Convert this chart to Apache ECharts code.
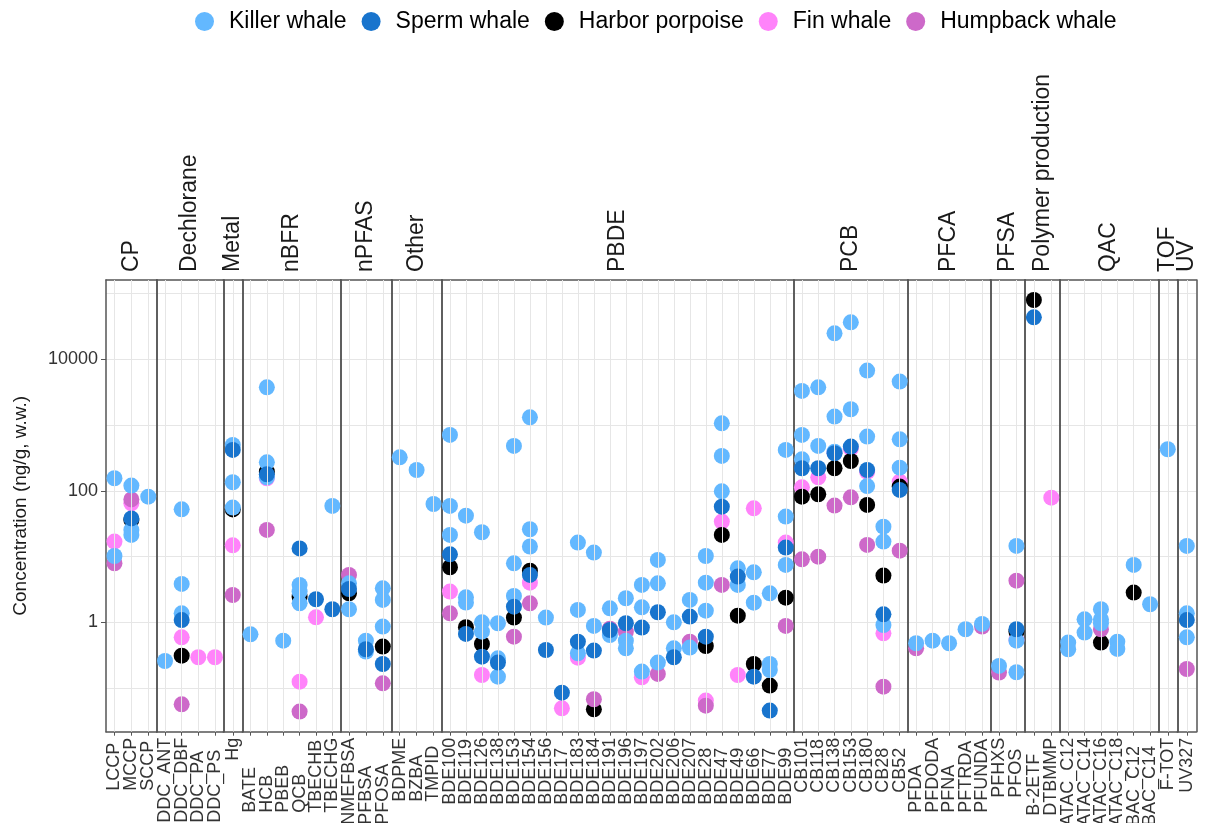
<!DOCTYPE html>
<html>
<head>
<meta charset="utf-8">
<script src="https://cdn.jsdelivr.net/npm/echarts@6/dist/echarts.min.js"></script>
<style>
html,body{margin:0;padding:0;background:#fff;}
#chart{width:1205px;height:823px;}
</style>
</head>
<body>
<div id="chart"></div>
<script>
// ---------- DATA ----------
const facets = ['CP','Dechlorane','Metal','nBFR','nPFAS','Other','PBDE','PCB','PFCA','PFSA','Polymer production','QAC','TOF','UV'];
const facetCategories = [
  ['LCCP','MCCP','SCCP'],
  ['DDC_ANT','DDC_DBF','DDC_PA','DDC_PS'],
  ['Hg'],
  ['BATE','HCB','PBEB','QCB','TBECHB','TBECHG'],
  ['NMEFBSA','PFBSA','PFOSA'],
  ['BDPME','BZBA','TMPID'],
  ['BDE100','BDE119','BDE126','BDE138','BDE153','BDE154','BDE156','BDE17','BDE183','BDE184','BDE191','BDE196','BDE197','BDE202','BDE206','BDE207','BDE28','BDE47','BDE49','BDE66','BDE77','BDE99'],
  ['CB101','CB118','CB138','CB153','CB180','CB28','CB52'],
  ['PFDA','PFDODA','PFNA','PFTRDA','PFUNDA'],
  ['PFHXS','PFOS'],
  ['B-2ETF','DTBMMP'],
  ['ATAC_C12','ATAC_C14','ATAC_C16','ATAC_C18','BAC_C12','BAC_C14'],
  ['F-TOT'],
  ['UV327']
];
const legendOrder = ['Killer whale','Sperm whale','Harbor porpoise','Fin whale','Humpback whale'];
const yTickValues = [1, 100, 10000];
const yAxisTitle = 'Concentration (ng/g, w.w.)';

const killerWhale = [
  ['LCCP',155],['LCCP',10.2],['MCCP',120],['MCCP',25.4],['MCCP',21.3],['SCCP',81.5],
  ['DDC_ANT',0.258],['DDC_DBF',52.3],['DDC_DBF',3.83],['DDC_DBF',1.37],
  ['Hg',498],['Hg',135],['Hg',55.5],
  ['BATE',0.657],['HCB',3750],['HCB',271],['HCB',160],['PBEB',0.526],['QCB',3.7],['QCB',2.93],['QCB',1.94],['TBECHG',58.8],
  ['NMEFBSA',3.92],['NMEFBSA',1.58],['PFBSA',0.526],['PFBSA',0.358],['PFOSA',3.29],['PFOSA',2.19],['PFOSA',0.86],
  ['BDPME',323],['BZBA',207],['TMPID',63],
  ['BDE100',707],['BDE100',58.8],['BDE100',21.3],['BDE119',41.9],['BDE119',2.4],['BDE119',2.0],
  ['BDE126',23.4],['BDE126',1.0],['BDE126',0.72],['BDE138',0.966],['BDE138',0.283],['BDE138',0.149],
  ['BDE153',481],['BDE153',7.89],['BDE153',2.51],['BDE154',1312],['BDE154',26],['BDE154',14.2],
  ['BDE156',1.18],['BDE183',16.3],['BDE183',1.54],['BDE183',0.338],['BDE184',11.5],['BDE184',0.88],
  ['BDE191',1.63],['BDE191',0.641],['BDE196',2.32],['BDE196',0.526],['BDE196',0.402],
  ['BDE197',3.7],['BDE197',1.69],['BDE197',0.178],['BDE202',8.87],['BDE202',3.92],['BDE202',0.244],
  ['BDE206',1.0],['BDE206',0.402],['BDE207',2.19],['BDE207',0.412],['BDE28',10.2],['BDE28',4.01],['BDE28',1.5],
  ['BDE47',1063],['BDE47',339],['BDE47',98],['BDE49',6.62],['BDE49',3.7],['BDE66',5.76],['BDE66',1.99],
  ['BDE77',2.76],['BDE77',0.232],['BDE77',0.188],['BDE99',418],['BDE99',40.5],['BDE99',7.45],
  ['CB101',3300],['CB101',707],['CB101',301],['CB118',3750],['CB118',481],['CB138',24850],['CB138',1343],['CB138',394],
  ['CB153',36500],['CB153',1738],['CB180',6730],['CB180',667],['CB180',118],['CB28',28.5],['CB28',16.9],['CB28',0.91],
  ['CB52',4575],['CB52',607],['CB52',225],
  ['PFDA',0.48],['PFDODA',0.526],['PFNA',0.48],['PFTRDA',0.783],['PFUNDA',0.944],
  ['PFHXS',0.217],['PFOS',14.5],['PFOS',0.526],['PFOS',0.174],
  ['ATAC_C12',0.491],['ATAC_C12',0.389],['ATAC_C14',1.11],['ATAC_C14',0.697],['ATAC_C16',1.58],['ATAC_C16',1.11],['ATAC_C16',0.966],
  ['ATAC_C18',0.508],['ATAC_C18',0.393],['BAC_C12',7.45],['BAC_C14',1.88],
  ['F-TOT',428],['UV327',14.5],['UV327',1.37],['UV327',0.59]
];
const spermWhale = [
  ['MCCP',38],['DDC_DBF',1.08],['Hg',418],['HCB',178],['QCB',13.3],['TBECHB',2.24],['TBECHG',1.58],
  ['NMEFBSA',3.21],['PFBSA',0.389],['PFOSA',0.232],
  ['BDE100',10.8],['BDE119',0.665],['BDE126',0.3],['BDE138',0.244],['BDE153',1.73],['BDE154',5.25],['BDE156',0.379],
  ['BDE17',0.085],['BDE183',0.508],['BDE184',0.371],['BDE191',0.764],['BDE196',0.966],['BDE197',0.83],['BDE202',1.42],
  ['BDE206',0.294],['BDE207',1.22],['BDE28',0.605],['BDE47',57.4],['BDE49',4.95],['BDE66',0.149],['BDE77',0.0454],['BDE99',13.7],
  ['CB101',220],['CB118',220],['CB138',372],['CB153',470],['CB180',207],['CB28',1.32],['CB52',103],
  ['PFOS',0.783],['B-2ETF',43500],['UV327',1.08]
];
const harborPorpoise = [
  ['MCCP',36],['DDC_DBF',0.311],['Hg',52],['HCB',195],['QCB',2.45],['NMEFBSA',2.76],['PFOSA',0.427],
  ['BDE100',6.87],['BDE119',0.84],['BDE126',0.468],['BDE153',1.18],['BDE154',6.1],['BDE184',0.0475],['BDE28',0.436],
  ['BDE47',21.3],['BDE49',1.26],['BDE66',0.232],['BDE77',0.109],['BDE99',2.37],
  ['CB101',81.5],['CB118',88.5],['CB138',220],['CB153',284],['CB180',61],['CB28',5.13],['CB52',116],
  ['PFOS',0.72],['B-2ETF',79800],['ATAC_C16',0.491],['BAC_C12',2.83]
];
const finWhale = [
  ['LCCP',16.9],['MCCP',64.5],['DDC_DBF',0.59],['DDC_PA',0.294],['DDC_PS',0.294],['Hg',14.8],['HCB',155],['QCB',0.125],['TBECHB',1.19],
  ['BDE100',2.93],['BDE126',0.158],['BDE154',4.01],['BDE17',0.0492],['BDE183',0.29],['BDE197',0.146],['BDE28',0.0644],
  ['BDE47',34],['BDE49',0.158],['BDE66',54.2],['BDE99',16.3],
  ['CB101',113],['CB118',160],['CB138',380],['CB153',440],['CB180',195],['CB28',0.68],['CB52',138],
  ['PFOS',0.539],['DTBMMP',78.7]
];
const humpbackWhale = [
  ['LCCP',7.9],['MCCP',74],['DDC_DBF',0.0566],['Hg',2.6],['HCB',25.4],['QCB',0.0438],['NMEFBSA',5.25],['PFOSA',0.118],
  ['BDE100',1.37],['BDE153',0.605],['BDE154',1.94],['BDE184',0.0675],['BDE191',0.8],['BDE196',0.72],['BDE202',0.164],
  ['BDE207',0.508],['BDE28',0.054],['BDE47',3.7],['BDE99',0.88],
  ['CB101',9.08],['CB118',9.97],['CB138',59.5],['CB153',79.6],['CB180',15],['CB28',0.105],['CB52',12.3],
  ['PFDA',0.402],['PFUNDA',0.86],['PFHXS',0.172],['PFOS',4.3],['ATAC_C16',0.783],['UV327',0.195]
];

// drawing order (later on top)
const drawOrder = [
  {name:'Fin whale', data:finWhale, color:'#FF83FA'},
  {name:'Harbor porpoise', data:harborPorpoise, color:'#000000'},
  {name:'Humpback whale', data:humpbackWhale, color:'#CD69C9'},
  {name:'Killer whale', data:killerWhale, color:'#63B8FF'},
  {name:'Sperm whale', data:spermWhale, color:'#1874CD'}
];

// ---------- LAYOUT ----------
const FONT = 'Liberation Sans, Arial, sans-serif';
const X_LABEL_SIZE = 18;
const plotLeft = 106, plotRight = 1196.3, plotTop = 280, plotBottom = 731.7;
const totalUnits = facetCategories.reduce((s,c)=>s + c.length + 0.2, 0);
const unit = (plotRight - plotLeft) / totalUnits;
const yMin = Math.pow(10, -1.664), yMax = Math.pow(10, 5.206);
const borderColor = '#555555';
const borderWidth = 1.5;
const gridColor = '#e6e6e6';

// measure label lengths so that labels in each panel share a common bottom edge
const mctx = document.createElement('canvas').getContext('2d');
mctx.font = X_LABEL_SIZE + 'px ' + FONT;
const textLen = s => mctx.measureText(s).width;

const grids = [], xAxes = [], yAxes = [], series = [];
let x0 = plotLeft;
facets.forEach((f, i) => {
  const cats = facetCategories[i];
  const w = (cats.length + 0.2) * unit;
  grids.push({left: x0, top: plotTop, width: w, height: plotBottom - plotTop, outerBoundsMode:'none', containLabel:false});
  x0 += w;
  const maxLen = Math.max.apply(null, cats.map(textLen));
  xAxes.push({
    type:'category', gridIndex:i, data:cats, position:'bottom', boundaryGap:true,
    axisLine:{show:true, onZero:false, lineStyle:{color:borderColor, width:borderWidth}},
    axisTick:{show:true, alignWithLabel:true, length:4, lineStyle:{color:borderColor, width:1}},
    axisLabel:{interval:0, rotate:90, align:'left', verticalAlign:'middle', fontSize:X_LABEL_SIZE, color:'#333',
      margin: 6 + maxLen, fontFamily:FONT, hideOverlap:false},
    splitLine:{show:false}
  });
  xAxes.push({
    type:'category', gridIndex:i, data:[f], position:'top',
    axisLine:{show:true, onZero:false, lineStyle:{color:borderColor, width:borderWidth}},
    axisTick:{show:false},
    axisLabel:{interval:0, rotate:-90, fontSize:23, color:'#1a1a1a', margin:8, fontFamily:FONT, hideOverlap:false},
    splitLine:{show:false}
  });
  // main log axis: left border + gridlines at every decade
  yAxes.push({
    type:'log', gridIndex:i, min:yMin, max:yMax, position:'left', splitNumber:10,
    axisLine:{show:true, onZero:false, lineStyle:{color:borderColor, width:borderWidth}},
    axisTick:{show:false}, axisLabel:{show:false},
    splitLine:{show:true, showMinLine:false, showMaxLine:false, lineStyle:{color:gridColor, width:1}}
  });
  // right border
  yAxes.push({
    type:'value', gridIndex:i, min:0, max:1, position:'right',
    axisLine:{show:true, onZero:false, lineStyle:{color:borderColor, width:borderWidth}},
    axisTick:{show:false}, axisLabel:{show:false}, splitLine:{show:false}
  });
  series.push({
    type:'scatter', xAxisIndex:2*i, yAxisIndex:2*i, silent:true, z:1,
    symbolSize:0, itemStyle:{opacity:0},
    data: cats.map(c => [c, 1]),
    markLine:{silent:true, symbol:['none','none'], label:{show:false}, animation:false,
      lineStyle:{color:gridColor, width:1, type:'solid'},
      emphasis:{disabled:true},
      data: cats.map(c => ({xAxis:c}))}
  });
});
// labelled y axis for the first panel
yAxes.push({
  type:'log', gridIndex:0, min:yMin, max:yMax, position:'left', offset:0,
  name: yAxisTitle, nameLocation:'middle', nameRotate:90, nameGap:76,
  nameTextStyle:{fontSize:19, color:'#1a1a1a', fontFamily:FONT},
  axisLine:{show:false},
  axisTick:{show:true, customValues:yTickValues, length:5, lineStyle:{color:borderColor, width:1}},
  axisLabel:{show:true, customValues:yTickValues, fontSize:18, color:'#333', margin:8, fontFamily:FONT,
    formatter: v => String(Math.round(v))},
  splitLine:{show:false}
});

drawOrder.forEach(sp => {
  facets.forEach((f, i) => {
    const cats = facetCategories[i];
    const pts = sp.data.filter(d => cats.indexOf(d[0]) >= 0);
    series.push({
      type:'scatter', name:sp.name, xAxisIndex:2*i, yAxisIndex:2*i, z:3,
      symbol:'circle', symbolSize:16,
      itemStyle:{color:sp.color, opacity:1},
      data: pts
    });
  });
});

const chart = echarts.init(document.getElementById('chart'), null, {renderer:'canvas'});
chart.setOption({
  animation:false,
  backgroundColor:'#ffffff',
  textStyle:{fontFamily:FONT},
  legend:{
    data: legendOrder.map(n => ({name:n, icon:'circle'})),
    top:5, left:190, itemWidth:19, itemHeight:19, itemGap:15,
    textStyle:{fontSize:23, color:'#000', fontFamily:FONT, padding:[0,0,0,10]},
    selectedMode:false
  },
  grid: grids,
  xAxis: xAxes,
  yAxis: yAxes,
  series: series
});
</script>
</body>
</html>
